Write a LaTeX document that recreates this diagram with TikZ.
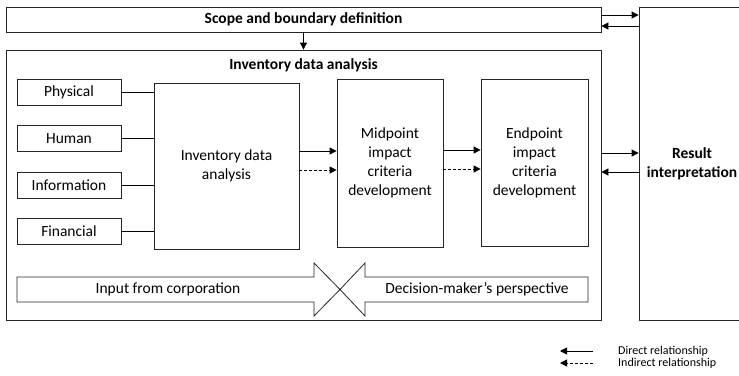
\documentclass[tikz,border=0pt]{standalone}
\usepackage{fontspec}
\setmainfont{Carlito}
\usetikzlibrary{positioning}
\usetikzlibrary{chains}
\usetikzlibrary{arrows.meta}
\tikzset{arrowline/.style={draw,line width=0.8pt,-{Triangle[length=7pt,width=7pt]}},dashline/.style={arrowline,dash pattern=on 3pt off 2pt}}

\begin{document}
\begin{tikzpicture}[x=1pt,y=-1pt,node distance=19.5pt,start chain=1 going below]
  \tikzstyle{abox}=[draw=black!85,line width=0.8pt,inner sep=2pt,align=center,font=\mainsize]
  \tikzstyle{inbox}=[abox,minimum width=104pt,minimum height=26pt]
  \tikzstyle{plainline}=[draw,line width=0.8pt]
  \tikzstyle{bigarrow}=[draw=black!85,line width=0.8pt]
  \def\mainsize{\fontsize{15.5}{19}\selectfont}
  \def\boldsize{\bfseries\fontsize{15.5}{19}\selectfont}
  \def\legendsize{\fontsize{12}{14}\selectfont}

  \useasboundingbox (0,0) rectangle (739,375);

  % frames
  \node [abox,minimum width=595pt,minimum height=270pt] (outer) at (303.5,185) {};
  \node [font=\boldsize] (title) at (303.5,65) {Inventory data analysis};
  \node [abox,minimum width=595pt,minimum height=25pt,font=\boldsize] (scope) at (303.5,19.5) {Scope and boundary definition};
  \node [abox,minimum width=106pt,minimum height=313pt,font=\boldsize] (result) at (692,163.5) {Result\\interpretation};

  % resources
  \node [on chain=1, inbox] (phys) at (69,92.5) {Physical};
  \node [on chain=1, inbox] (human) {Human};
  \node [on chain=1, inbox] (info) {Information};
  \node [on chain=1, inbox] (fin) {Financial};

  \node [abox,minimum width=145pt,minimum height=166pt] (inv) at (226.5,166) {Inventory data\\analysis};
  \node [abox,minimum width=106pt,minimum height=168pt] (mid) at (390,163) {Midpoint\\impact\\criteria\\development};
  \node [abox,minimum width=107pt,minimum height=167pt] (endp) at (534.5,162.5) {Endpoint\\impact\\criteria\\development};

  \path [plainline] (phys.east) -- (phys.east -| inv.west);
  \path [plainline] (human.east) -- (human.east -| inv.west);
  \path [plainline] (info.east) -- (info.east -| inv.west);
  \path [plainline] (fin.east) -- (fin.east -| inv.west);

  \path [arrowline] ([yshift=15pt]inv.east) -- ([yshift=15pt]inv.east -| mid.west);
  \path [dashline] ([yshift=-4pt]inv.east) -- ([yshift=-4pt]inv.east -| mid.west);
  \path [arrowline] ([yshift=13pt]mid.east) -- ([yshift=13pt]mid.east -| endp.west);
  \path [dashline] ([yshift=-6pt]mid.east) -- ([yshift=-6pt]mid.east -| endp.west);

  \path [arrowline] (scope.south) -- (outer.north);
  \path [arrowline] ([yshift=4.5pt]scope.east) -- ([yshift=4.5pt]scope.east -| result.west);
  \path [arrowline] ([yshift=-6.5pt]scope.east -| result.west) -- ([yshift=-6.5pt]scope.east);
  \path [arrowline] ([yshift=32pt]outer.east) -- ([yshift=32pt]outer.east -| result.west);
  \path [arrowline] ([yshift=13pt]outer.east -| result.west) -- ([yshift=13pt]outer.east);

  % crossing arrows
  \draw [bigarrow] (17,277) -- (314,277) -- (314,263) -- (340,289.5) -- (314,316) -- (314,302) -- (17,302) -- cycle;
  \draw [bigarrow] (588,277) -- (365,277) -- (365,263) -- (340,289.5) -- (365,316) -- (365,302) -- (588,302) -- cycle;
  \node [font=\mainsize] (corp) at (168,289.5) {Input from corporation};
  \node [font=\mainsize] (dm) at (477,289.5) {Decision-maker’s perspective};

  % legend
  \coordinate (dirfrom) at (593,351);
  \coordinate (dirto) at (560,351);
  \coordinate (indfrom) at (593,363);
  \coordinate (indto) at (560,363);
  \path [arrowline] (dirfrom) -- (dirto);
  \path [dashline] (indfrom) -- (indto);
  \node [anchor=west,inner sep=0pt,font=\legendsize] (dirtext) at (618,351) {Direct relationship};
  \node [anchor=west,inner sep=0pt,font=\legendsize] (indtext) at (618,363) {Indirect relationship};
\end{tikzpicture}
\end{document}
